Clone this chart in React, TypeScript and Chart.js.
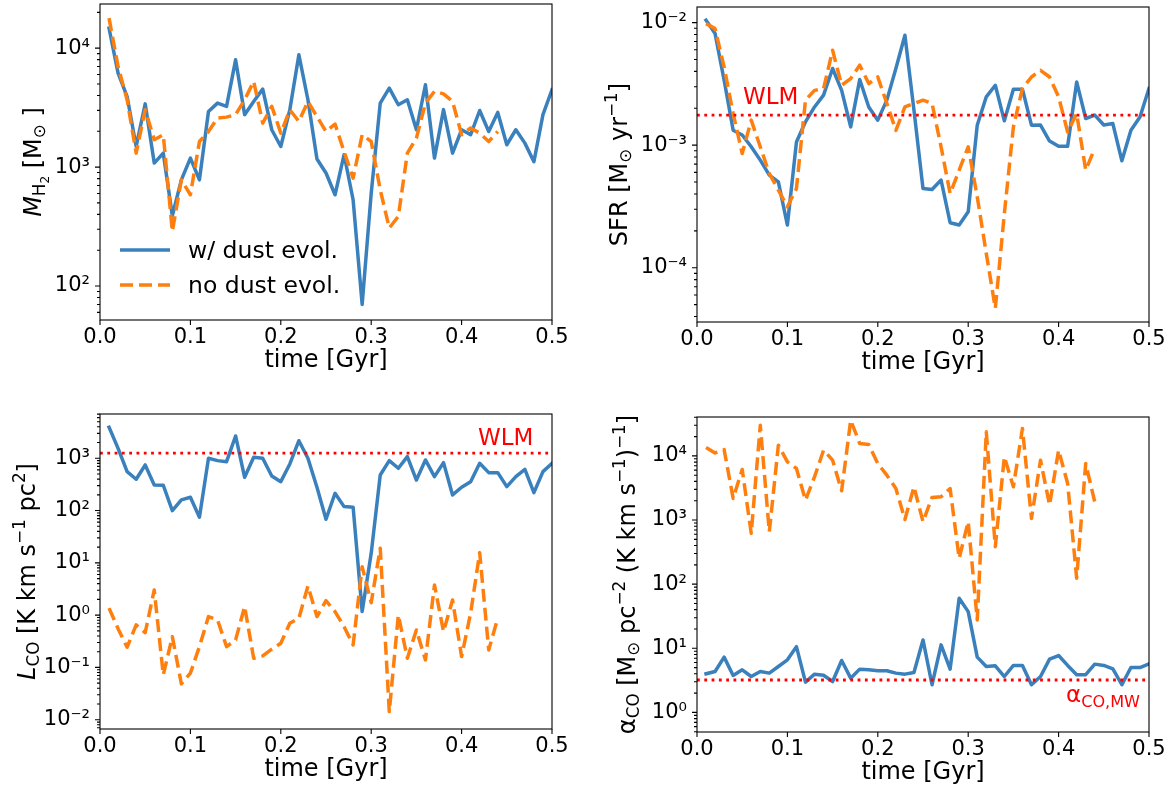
import React, { useEffect, useRef } from 'react';
import { Chart, registerables } from 'chart.js';

Chart.register(...registerables);

const FONT = '"DejaVu Sans", sans-serif';
const BLUE = '#3a80bc';
const ORANGE = '#ff7f0e';
const RED = '#ff0000';

const TIME = [0.01, 0.02, 0.03, 0.04, 0.05, 0.06, 0.07, 0.08, 0.09, 0.10,
  0.11, 0.12, 0.13, 0.14, 0.15, 0.16, 0.17, 0.18, 0.19, 0.20,
  0.21, 0.22, 0.23, 0.24, 0.25, 0.26, 0.27, 0.28, 0.29, 0.30,
  0.31, 0.32, 0.33, 0.34, 0.35, 0.36, 0.37, 0.38, 0.39, 0.40,
  0.41, 0.42, 0.43, 0.44, 0.45, 0.46, 0.47, 0.48, 0.49, 0.50];

const X_TICKS = [0.0, 0.1, 0.2, 0.3, 0.4, 0.5];

// M_H2 [Msun]
const MH2_DUST = [14700, 6170, 3920, 1490, 3400, 1080, 1310, 390, 781, 1190,
  781, 2930, 3450, 3240, 7980, 2760, 3560, 4520, 2060, 1490,
  3040, 8790, 3680, 1170, 891, 585, 1270, 531, 70, 600,
  3450, 4610, 3340, 3680, 2060, 4920, 1190, 3040, 1310, 2060,
  1870, 2990, 1990, 2880, 1540, 2060, 1590, 1110, 2760, 4470];
const MH2_NODUST = [17900, 7000, 3680, 1310, 3030, 1700, 1870, 288, 781, 585,
  1640, 1990, 2580, 2630, 2760, 3680, 5250, 2340, 3240, 1930,
  3030, 2420, 3560, 2660, 1990, 2300, 1350, 807, 1870, 1640,
  645, 307, 385, 1310, 1750, 3450, 4330, 4130, 3560, 1870,
  2130, 1930, 1640, 1990];

// SFR [Msun/yr]
const SFR_DUST = [0.01044, 0.00813, 0.00339, 0.001325, 0.00121, 0.00097, 0.000755, 0.000569, 0.000502, 0.000223,
  0.00106, 0.00155, 0.00205, 0.00256, 0.00422, 0.0028, 0.00141, 0.00343, 0.00205, 0.0016,
  0.00233, 0.00422, 0.00788, 0.00193, 0.000443, 0.000435, 0.000519, 0.000233, 0.000223, 0.000286,
  0.001456, 0.00248, 0.00308, 0.00158, 0.00286, 0.00286, 0.001456, 0.00146, 0.00108, 0.00098,
  0.00098, 0.00328, 0.00165, 0.00176, 0.00146, 0.0015, 0.000745, 0.001325, 0.0017, 0.0029];
const SFR_NODUST = [0.00981, 0.00893, 0.00435, 0.00181, 0.000855, 0.0016, 0.00097, 0.000587, 0.00043, 0.000314,
  0.000443, 0.00233, 0.0028, 0.0029, 0.00594, 0.00308, 0.00349, 0.00449, 0.00318, 0.0036,
  0.00219, 0.00132, 0.00205, 0.00219, 0.00233, 0.00219, 0.00097, 0.000403, 0.000625, 0.00097,
  0.000379, 0.000131, 0.0000467, 0.000277, 0.00141, 0.0029, 0.0036, 0.00408, 0.0036, 0.00248,
  0.00128, 0.00181, 0.000625, 0.00094];
const SFR_WLM = 0.00176;

// L_CO [K km/s pc^2]
const LCO_DUST = [3920, 1550, 555, 397, 745, 309, 305, 99.5, 160, 180,
  74.5, 1000, 902, 862, 2670, 432, 1045, 1000, 459, 357,
  778, 2170, 1000, 279, 68.2, 214, 119, 116, 1.17, 15.2,
  479, 902, 644, 1073, 384, 929, 446, 826, 199, 279,
  357, 802, 531, 531, 287, 446, 615, 220, 555, 802];
const LCO_NODUST = [1.36, 0.55, 0.243, 0.65, 0.463, 3.03, 0.072, 0.388, 0.0484, 0.0776,
  0.25, 0.938, 0.81, 0.25, 0.336, 1.46, 0.15, 0.166, 0.223, 0.29,
  0.7, 0.873, 3.61, 0.94, 1.89, 1.17, 0.6, 0.27, 8.45, 1.73,
  19, 0.0143, 1.0, 0.15, 0.52, 0.139, 3.78, 0.485, 1.95, 0.161,
  1.09, 15.7, 0.216, 0.873];
const LCO_WLM = 1250;

// alpha_CO
const ACO_DUST = [4.0, 4.34, 7.28, 3.77, 4.62, 3.63, 4.34, 4.1, 5.2, 6.61,
  10.6, 2.97, 3.95, 3.8, 3.03, 6.46, 3.42, 4.73, 4.62, 4.46,
  4.46, 4.1, 3.95, 4.2, 13.5, 2.7, 11.3, 4.73, 60.3, 37.3,
  7.28, 5.2, 5.33, 3.63, 5.4, 5.4, 2.7, 3.63, 6.77, 7.71,
  5.4, 3.87, 3.87, 5.66, 5.4, 4.79, 2.7, 5.01, 5.01, 5.73];
const ACO_NODUST = [13500, 11100, 12500, 2170, 6140, 619, 30000, 657, 14700, 8070,
  6370, 2040, 4710, 12270, 8580, 2860, 35900, 15600, 15000, 7610,
  5000, 3100, 1020, 3300, 940, 2250, 2300, 3100, 253, 940,
  27.7, 23700, 384, 9660, 3300, 26700, 1060, 8580, 1710, 12270,
  3720, 124, 7610, 1920];
const ACO_MW = 3.2;

const SUP: Record<string, string> = { '-': '⁻', '0': '⁰', '1': '¹', '2': '²', '3': '³', '4': '⁴', '5': '⁵', '6': '⁶', '7': '⁷', '8': '⁸', '9': '⁹' };
function decadeLabel(v: number) {
  const e = Math.round(Math.log10(v));
  return '10' + String(e).split('').map((c) => SUP[c]).join('');
}

type Seg = { t: string; lvl?: number; it?: boolean };

function segMetrics(size: number, lvl: number) {
  if (lvl === 0) return { s: size, dy: 0 };
  if (lvl === 1) return { s: size * 0.7, dy: size * 0.2 };
  if (lvl === 2) return { s: size * 0.5, dy: size * 0.33 };
  return { s: size * 0.7, dy: -size * 0.42 };
}

function drawRich(ctx: CanvasRenderingContext2D, segs: Seg[], x: number, y: number, size: number, align: 'left' | 'center' | 'right', color: string) {
  ctx.save();
  ctx.fillStyle = color;
  ctx.textBaseline = 'alphabetic';
  ctx.textAlign = 'left';
  const items = segs.map((sg) => {
    const m = segMetrics(size, sg.lvl ?? 0);
    const font = `${sg.it ? 'italic ' : ''}${m.s}px ${FONT}`;
    ctx.font = font;
    return { t: sg.t, font, dy: m.dy, w: ctx.measureText(sg.t).width };
  });
  const total = items.reduce((a, b) => a + b.w, 0);
  let cx = align === 'left' ? x : align === 'right' ? x - total : x - total / 2;
  for (const it of items) {
    ctx.font = it.font;
    ctx.fillText(it.t, cx, y + it.dy);
    cx += it.w;
  }
  ctx.restore();
}

const CW = 586;
const CH = 397;
const TICK_FS = 21;
const TITLE_FS = 24;

interface PanelSpec {
  key: string;
  left: number;
  top0: number;
  dust: number[];
  nodust: number[];
  ref?: number;
  min: number;
  max: number;
  yWidth: number;
  padRight: number;
  padTop: number;
  xHeight: number;
  titleCenterFromBottom: number;
  yTitle: Seg[];
  yTitleX: number;
  extra?: (ctx: CanvasRenderingContext2D) => void;
}

const PANELS: PanelSpec[] = [
  {
    key: 'mh2', left: 0, top0: 0, dust: MH2_DUST, nodust: MH2_NODUST,
    min: 51.8, max: 23500, yWidth: 100, padRight: 34, padTop: 4, xHeight: 77, titleCenterFromBottom: 36,
    yTitle: [{ t: 'M', it: true }, { t: 'H', lvl: 1 }, { t: '2', lvl: 2 }, { t: ' [M' }, { t: '⊙', lvl: 1 }, { t: ' ]' }],
    yTitleX: 32,
    extra: (ctx) => {
      ctx.save();
      ctx.lineWidth = 3.5;
      ctx.strokeStyle = BLUE;
      ctx.lineCap = 'butt';
      ctx.beginPath(); ctx.moveTo(120, 250); ctx.lineTo(170, 250); ctx.stroke();
      ctx.strokeStyle = ORANGE;
      ctx.setLineDash([13, 6]);
      ctx.beginPath(); ctx.moveTo(120, 285); ctx.lineTo(170, 285); ctx.stroke();
      ctx.restore();
      drawRich(ctx, [{ t: 'w/ dust evol.' }], 188, 258, 23.5, 'left', '#000');
      drawRich(ctx, [{ t: 'no dust evol.' }], 188, 293, 23.5, 'left', '#000');
    },
  },
  {
    key: 'sfr', left: 586, top0: 0, dust: SFR_DUST, nodust: SFR_NODUST, ref: SFR_WLM,
    min: 3.61e-5, max: 0.0134, yWidth: 111, padRight: 23, padTop: 7, xHeight: 75, titleCenterFromBottom: 34,
    yTitle: [{ t: 'SFR [M' }, { t: '⊙', lvl: 1 }, { t: ' yr' }, { t: '−1', lvl: -1 }, { t: ']' }],
    yTitleX: 32,
    extra: (ctx) => drawRich(ctx, [{ t: 'WLM' }], 157, 104, 23, 'left', RED),
  },
  {
    key: 'lco', left: 0, top0: 397, dust: LCO_DUST, nodust: LCO_NODUST, ref: LCO_WLM,
    min: 0.00664, max: 7030, yWidth: 100, padRight: 34, padTop: 17, xHeight: 65, titleCenterFromBottom: 24,
    yTitle: [{ t: 'L', it: true }, { t: 'CO', lvl: 1 }, { t: ' [K km s' }, { t: '−1', lvl: -1 }, { t: ' pc' }, { t: '2', lvl: -1 }, { t: ']' }],
    yTitleX: 26,
    extra: (ctx) => drawRich(ctx, [{ t: 'WLM' }], 478, 48, 23, 'left', RED),
  },
  {
    key: 'aco', left: 586, top0: 397, dust: ACO_DUST, nodust: ACO_NODUST, ref: ACO_MW,
    min: 0.495, max: 40400, yWidth: 111, padRight: 23, padTop: 20, xHeight: 62, titleCenterFromBottom: 21,
    yTitle: [{ t: 'α' }, { t: 'CO', lvl: 1 }, { t: ' [M' }, { t: '⊙', lvl: 1 }, { t: ' pc' }, { t: '−2', lvl: -1 }, { t: ' (K km s' }, { t: '−1', lvl: -1 }, { t: ')' }, { t: '−1', lvl: -1 }, { t: ']' }],
    yTitleX: 40,
    extra: (ctx) => drawRich(ctx, [{ t: 'α' }, { t: 'CO,MW', lvl: 1 }], 554, 305, 23, 'right', RED),
  },
];

function buildConfig(p: PanelSpec): any {
  const datasets: any[] = [
    {
      data: TIME.slice(0, p.dust.length).map((t, i) => ({ x: t, y: p.dust[i] })),
      borderColor: BLUE, borderWidth: 3.5, pointRadius: 0, tension: 0, fill: false,
      borderJoinStyle: 'round', borderCapStyle: 'square', clip: 0, order: 3,
    },
    {
      data: TIME.slice(0, p.nodust.length).map((t, i) => ({ x: t, y: p.nodust[i] })),
      borderColor: ORANGE, borderWidth: 3.5, borderDash: [13, 6], pointRadius: 0, tension: 0, fill: false,
      borderJoinStyle: 'round', borderCapStyle: 'butt', clip: 0, order: 2,
    },
  ];
  if (p.ref !== undefined) {
    datasets.push({
      data: [{ x: 0, y: p.ref }, { x: 0.5, y: p.ref }],
      borderColor: RED, borderWidth: 2.8, borderDash: [2.8, 4.5], pointRadius: 0, fill: false,
      borderCapStyle: 'butt', clip: 0, order: 1,
    });
  }

  const deco = {
    id: 'deco-' + p.key,
    afterDraw(chart: any) {
      const ctx: CanvasRenderingContext2D = chart.ctx;
      const { left, right, top, bottom } = chart.chartArea;
      const xs = chart.scales.x;
      const ys = chart.scales.y;
      ctx.save();
      ctx.strokeStyle = '#000';
      ctx.lineWidth = 1.1;
      ctx.beginPath();
      for (const t of xs.ticks) {
        const px = xs.getPixelForValue(t.value);
        ctx.moveTo(px, bottom);
        ctx.lineTo(px, bottom + 5);
      }
      for (const t of ys.ticks) {
        const py = ys.getPixelForValue(t.value);
        ctx.moveTo(left, py);
        ctx.lineTo(left - (t.major ? 5 : 3), py);
      }
      ctx.stroke();
      ctx.strokeRect(left, top, right - left, bottom - top);
      ctx.restore();

      ctx.save();
      ctx.translate(p.yTitleX, (top + bottom) / 2);
      ctx.rotate(-Math.PI / 2);
      drawRich(ctx, p.yTitle, 0, TITLE_FS * 0.36, TITLE_FS, 'center', '#000');
      ctx.restore();

      if (p.extra) p.extra(ctx);
    },
  };

  return {
    type: 'line',
    data: { datasets },
    options: {
      responsive: false,
      animation: false,
      devicePixelRatio: 1,
      events: [],
      layout: { padding: { left: 0, right: p.padRight, top: p.padTop, bottom: 0 } },
      plugins: { legend: { display: false }, tooltip: { enabled: false } },
      scales: {
        x: {
          type: 'linear', min: 0, max: 0.5,
          grid: { display: false, drawTicks: false },
          border: { display: false },
          afterBuildTicks: (s: any) => { s.ticks = X_TICKS.map((v) => ({ value: v })); },
          ticks: {
            autoSkip: false, maxRotation: 0, padding: 5, color: '#000',
            font: { family: FONT, size: TICK_FS },
            callback: (v: any) => Number(v).toFixed(1),
          },
          title: {
            display: true, text: 'time [Gyr]', color: '#000',
            font: { family: FONT, size: TITLE_FS },
            padding: { top: 0, bottom: p.titleCenterFromBottom - TITLE_FS * 0.6 },
          },
          afterFit: (s: any) => { s.height = p.xHeight; s.paddingLeft = 0; s.paddingRight = 0; },
        },
        y: {
          type: 'logarithmic', min: p.min, max: p.max,
          grid: { display: false, drawTicks: false },
          border: { display: false },
          afterBuildTicks: (s: any) => {
            const ticks: any[] = [];
            const e0 = Math.floor(Math.log10(p.min));
            const e1 = Math.ceil(Math.log10(p.max));
            for (let e = e0; e <= e1; e++) {
              for (let m = 1; m <= 9; m++) {
                const v = m * Math.pow(10, e);
                if (v >= p.min && v <= p.max) ticks.push({ value: v, major: m === 1 });
              }
            }
            s.ticks = ticks;
          },
          ticks: {
            autoSkip: false, padding: 10, color: '#000',
            font: { family: FONT, size: TICK_FS },
            callback: (v: any, i: number, ticks: any[]) => (ticks[i] && ticks[i].major ? decadeLabel(Number(v)) : ''),
          },
          afterFit: (s: any) => { s.width = p.yWidth; s.paddingTop = 0; s.paddingBottom = 0; },
        },
      },
    },
    plugins: [deco],
  };
}

function Panel({ p }: { p: PanelSpec }) {
  const ref = useRef<HTMLCanvasElement>(null);
  useEffect(() => {
    if (!ref.current) return;
    const chart = new Chart(ref.current, buildConfig(p));
    return () => chart.destroy();
  }, [p]);
  return (
    <canvas
      ref={ref}
      width={CW}
      height={CH}
      style={{ position: 'absolute', left: p.left, top: p.top0, width: CW, height: CH }}
    />
  );
}

export default function App() {
  return (
    <div style={{ position: 'absolute', left: 0, top: 0, width: 1172, height: 794, background: '#fff' }}>
      {PANELS.map((p) => (
        <Panel key={p.key} p={p} />
      ))}
    </div>
  );
}
